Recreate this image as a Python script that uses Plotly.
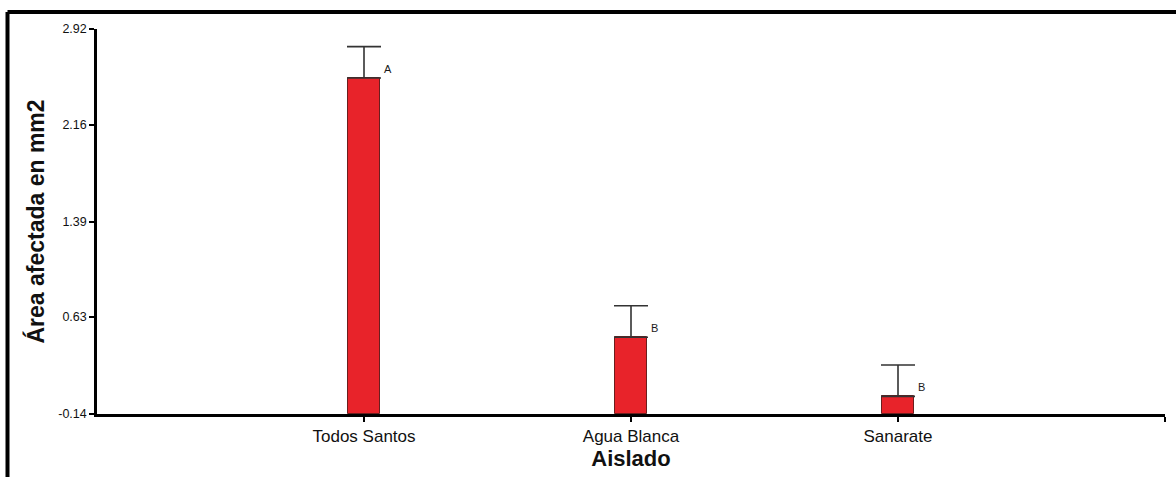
import plotly.graph_objects as go

# Mean affected area (mm2) per isolate, with standard error and significance letters
aislados = ["Todos Santos", "Agua Blanca", "Sanarate"]
area_media = [2.53, 0.47, 0.0]
error_std = [0.25, 0.25, 0.25]
letras = ["A", "B", "B"]

y_ticks = [-0.14, 0.63, 1.39, 2.16, 2.92]
y_min, y_max = -0.14, 2.92

x_pos = list(range(len(aislados)))
font_family = "Liberation Sans, Arial, sans-serif"

fig = go.Figure()

# Bars rise from the bottom of the value axis
fig.add_trace(go.Bar(
    x=x_pos,
    y=[v - y_min for v in area_media],
    base=y_min,
    width=0.12,
    marker=dict(color="#e8232a", line=dict(color="#6b1e1e", width=1)),
    error_y=dict(type="data", symmetric=False, array=error_std,
                 arrayminus=[0] * len(error_std),
                 color="#333333", thickness=1.6, width=17),
    showlegend=False,
))

for xi, v, letra in zip(x_pos, area_media, letras):
    fig.add_annotation(x=xi + 0.088, y=v, text=letra, showarrow=False,
                       yshift=9, font=dict(size=11, color="#1a1a1a", family=font_family))

# Frame lines along the top and left of the page
fig.add_shape(type="line", xref="paper", yref="paper",
              x0=-0.0838, x1=1.02, y0=1.044, y1=1.044,
              line=dict(color="black", width=4))
fig.add_shape(type="line", xref="paper", yref="paper",
              x0=-0.0838, x1=-0.0838, y0=1.044, y1=-0.2,
              line=dict(color="black", width=4))

fig.update_layout(
    width=1176, height=477,
    margin=dict(l=97, r=11, t=29, b=63),
    plot_bgcolor="white", paper_bgcolor="white",
    font=dict(family=font_family, color="black"),
    bargap=0,
    xaxis=dict(
        range=[-1, 3],
        tickvals=[0, 1, 2, 3],
        ticktext=aislados + [""],
        ticks="outside", ticklen=5, tickwidth=2, tickcolor="black",
        showline=True, linecolor="black", linewidth=2.5,
        showgrid=False, zeroline=False,
        tickfont=dict(size=17, color="#111111"),
        title=dict(text="<b>Aislado</b>", font=dict(size=22, color="#111111"), standoff=3),
    ),
    yaxis=dict(
        range=[y_min, y_max],
        tickvals=y_ticks,
        ticktext=[f"{t:.2f}" for t in y_ticks],
        ticks="outside", ticklen=5, tickwidth=2, tickcolor="black",
        showline=True, linecolor="black", linewidth=2.5,
        showgrid=False, zeroline=False,
        tickfont=dict(size=12.5, color="#111111"),
        title=dict(text="<b>Área afectada en mm2</b>", font=dict(size=23, color="#111111"), standoff=8),
    ),
)

fig.write_html("out.html")
